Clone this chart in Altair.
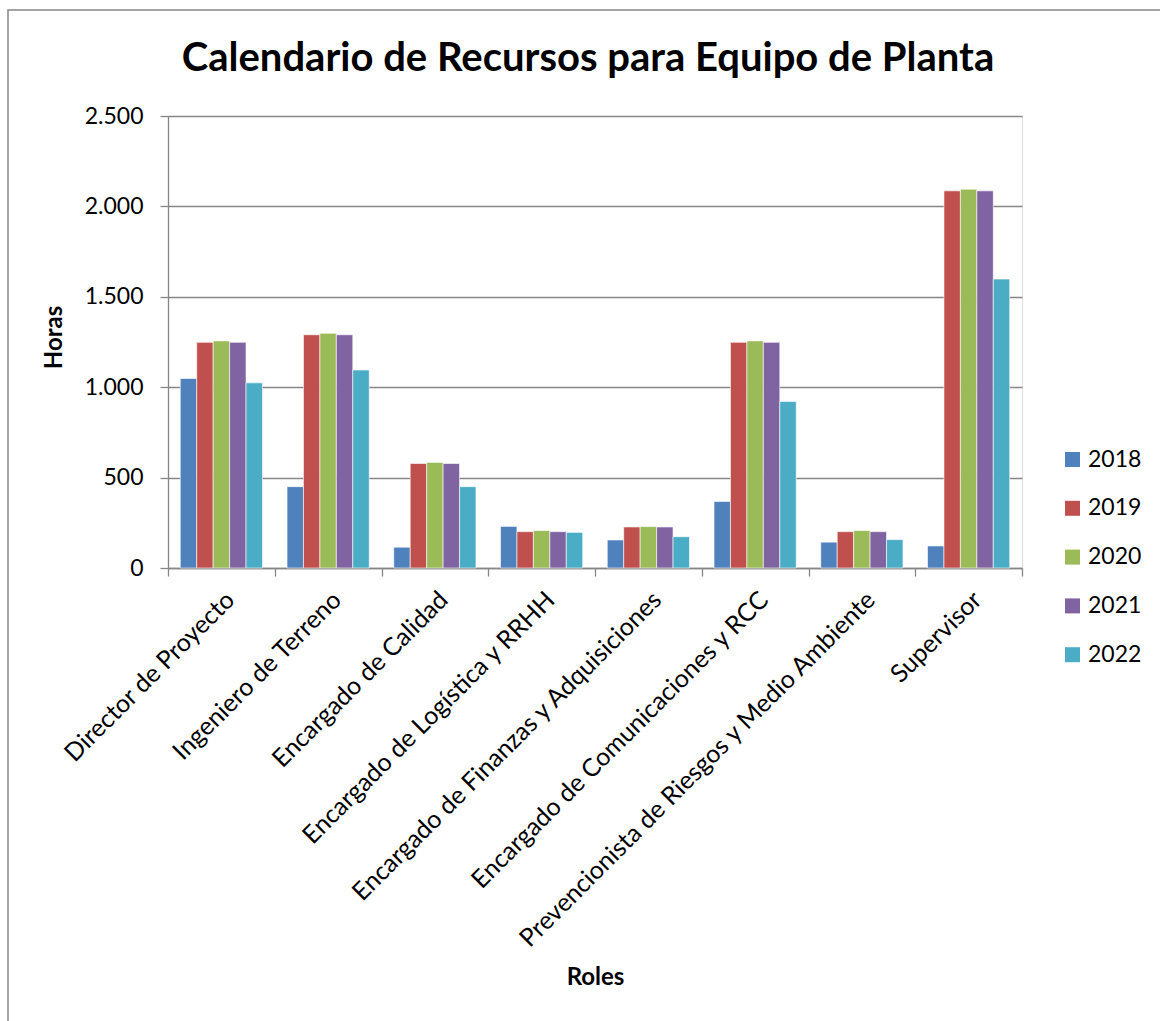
import altair as alt
import pandas as pd

roles = [
    "Director de Proyecto",
    "Ingeniero de Terreno",
    "Encargado de Calidad",
    "Encargado de Logística y RRHH",
    "Encargado de Finanzas y Adquisiciones",
    "Encargado de Comunicaciones y RCC",
    "Prevencionista de Riesgos y Medio Ambiente",
    "Supervisor",
]
years = ["2018", "2019", "2020", "2021", "2022"]
h2018 = [1048, 450, 115, 230, 155, 368, 143, 122]
h2019 = [1248, 1290, 578, 201, 227, 1248, 201, 2086]
h2020 = [1256, 1298, 584, 207, 229, 1256, 207, 2095]
h2021 = [1248, 1290, 578, 201, 227, 1248, 201, 2086]
h2022 = [1024, 1095, 450, 197, 173, 921, 157, 1598]
colors = ["#4F81BD", "#C0504D", "#9BBB59", "#8064A2", "#4BACC6"]
chart_title = "Calendario de Recursos para Equipo de Planta"

series = [h2018, h2019, h2020, h2021, h2022]
rows = []
for y, vals in zip(years, series):
    for r, v in zip(roles, vals):
        rows.append({"Rol": r, "Año": y, "Horas": v})
df = pd.DataFrame(rows)

FONT = "Lato"
GRID = "#868686"

bars = alt.Chart(df).mark_bar(stroke="white", strokeWidth=0.6).encode(
    x=alt.X(
        "Rol:N",
        sort=roles,
        scale=alt.Scale(paddingInner=0, paddingOuter=0),
        axis=alt.Axis(
            title="Roles",
            labelAngle=-45,
            labelAlign="right",
            labelBaseline="top",
            labelFontSize=25,
            labelFont=FONT,
            labelColor="black",
            labelPadding=11,
            labelLimit=700,
            tickBand="extent",
            tickSize=8,
            tickColor=GRID,
            tickWidth=1.3,
            domainColor=GRID,
            domainWidth=1.3,
            grid=False,
            titleFont=FONT,
            titleFontSize=24,
            titleFontWeight="bold",
            titleColor="black",
            titleY=409,
            titleBaseline="middle",
        ),
    ),
    xOffset=alt.XOffset("Año:N", sort=years, scale=alt.Scale(paddingInner=0, paddingOuter=0.747)),
    y=alt.Y(
        "Horas:Q",
        scale=alt.Scale(domain=[0, 2500], nice=False),
        axis=alt.Axis(
            title="Horas",
            values=[0, 500, 1000, 1500, 2000, 2500],
            labelExpr="replace(format(datum.value, ','), ',', '.')",
            labelFontSize=23,
            labelFont=FONT,
            labelColor="black",
            labelPadding=17,
            tickSize=8,
            tickColor=GRID,
            tickWidth=1.3,
            domainColor=GRID,
            domainWidth=1.3,
            grid=True,
            gridColor=GRID,
            gridWidth=1.3,
            titleFont=FONT,
            titleFontSize=24,
            titleFontWeight="bold",
            titleColor="black",
            titleX=-114,
            titleY=221,
            titleAlign="center",
            titleBaseline="middle",
        ),
    ),
    color=alt.Color(
        "Año:N",
        sort=years,
        scale=alt.Scale(domain=years, range=colors),
        legend=alt.Legend(
            title=None,
            orient="none",
            legendX=893,
            legendY=332,
            symbolType="square",
            symbolSize=225,
            symbolStrokeWidth=0,
            labelFontSize=23,
            labelFont=FONT,
            labelColor="black",
            rowPadding=24.8,
            labelOffset=4,
            padding=0,
        ),
    ),
)

frame_df = pd.DataFrame({"k": [0]})
frame = alt.Chart(frame_df).mark_rect(fill="transparent", stroke=GRID, strokeWidth=1.5).encode(
    x=alt.value(-160),
    x2=alt.value(1100),
    y=alt.value(-106),
    y2=alt.value(1000),
)

title_df = pd.DataFrame({"t": [chart_title]})
title = alt.Chart(title_df).mark_text(
    font=FONT, fontSize=40, fontWeight="bold", color="black",
    align="center", baseline="alphabetic",
).encode(
    text="t:N",
    x=alt.value(420),
    y=alt.value(-45),
)

chart = alt.layer(frame, bars, title).properties(
    width=854,
    height=452,
    autosize=alt.AutoSizeParams(type="none"),
    padding={"left": 168, "top": 116, "right": 138, "bottom": 453},
).configure_view(stroke=None).configure(background="white")

chart.save("out.html", embed_options={"renderer": "svg", "actions": False})
